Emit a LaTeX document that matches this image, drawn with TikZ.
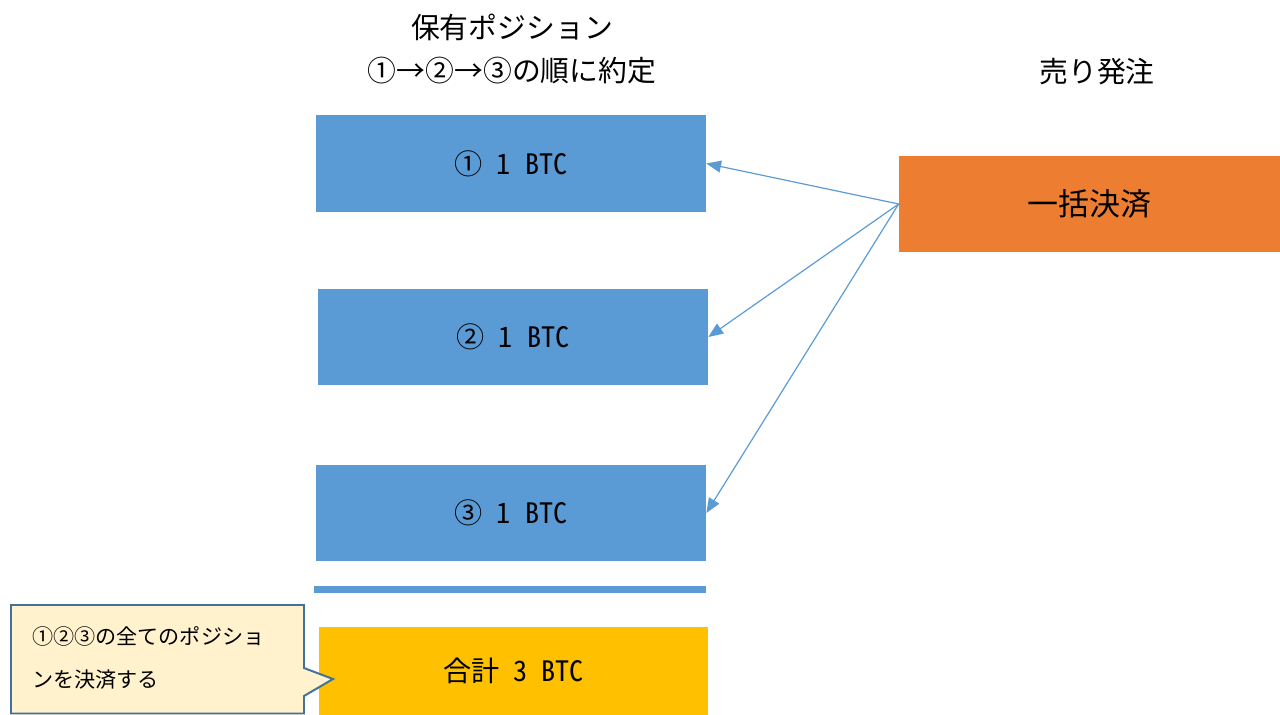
\documentclass[tikz,border=0pt]{standalone}
\usepackage{fontspec}
\setmainfont{Noto Sans CJK JP}
\newfontfamily\halfwidth[RawFeature=+hwid]{Noto Sans CJK JP}
\usetikzlibrary{arrows.meta}
\definecolor{posblue}{HTML}{5B9BD5}
\definecolor{sellorange}{HTML}{ED7D31}
\definecolor{sumyellow}{HTML}{FFC000}
\definecolor{notefill}{HTML}{FFF2CC}
\definecolor{noteline}{HTML}{41719C}
\tikzset{
  posbox/.style={fill=posblue, minimum width=9.75cm, minimum height=2.42cm, inner sep=0pt, font=\halfwidth\fontsize{20}{24}\selectfont},
  sumbox/.style={fill=sumyellow, minimum width=9.72cm, minimum height=2.2cm, inner sep=0pt, font=\halfwidth\fontsize{20}{24}\selectfont},
  settlebox/.style={fill=sellorange, minimum width=9.525cm, minimum height=2.4cm, inner sep=0pt, font=\fontsize{22}{26}\selectfont},
  headtext/.style={align=center, inner sep=0pt, font=\fontsize{20.5}{31.2}\selectfont},
  order/.style={draw=posblue, line width=0.85pt, -{Triangle[length=10.5pt,width=8.5pt]}},
  note/.style={draw=noteline, fill=notefill, line width=1.4pt, line join=miter}
}
\begin{document}
\begin{tikzpicture}[x=0.025cm,y=-0.025cm]
\useasboundingbox (0,0) rectangle (1280,715);
% headings
\node[headtext] (hold) at (512,49) {保有ポジション\\①→②→③の順に約定};
\node[headtext] (sell) at (1097,72) {売り発注};
% positions
\node[posbox] (p1) at (511,163.5) {① 1 BTC};
\node[posbox] (p2) at (513,337) {② 1 BTC};
\node[posbox] (p3) at (511,513) {③ 1 BTC};
\node[fill=posblue, minimum width=9.8cm, minimum height=0.175cm, inner sep=0pt] (bar) at (510,589.5) {};
\node[sumbox] (sum) at (513.5,671) {\raisebox{-0.1cm}{合計 3 BTC}};
% order
\node[settlebox] (settle) at (1089.5,204) {一括決済};
\draw[order] (settle.west) -- (p1.east);
\draw[order] (settle.west) -- (p2.east);
\draw[order] (settle.west) -- (p3.east);
% callout
\draw[note] (11,605) -- (304,605) -- (304,668) -- (333,679) -- (304,696) -- (304,713.5) -- (11,713.5) -- cycle;
\node[align=left, anchor=west, inner sep=0pt, font=\fontsize{15}{30}\selectfont] (notetext) at (32,658) {①②③の全てのポジショ\\ンを決済する};
\end{tikzpicture}
\end{document}
